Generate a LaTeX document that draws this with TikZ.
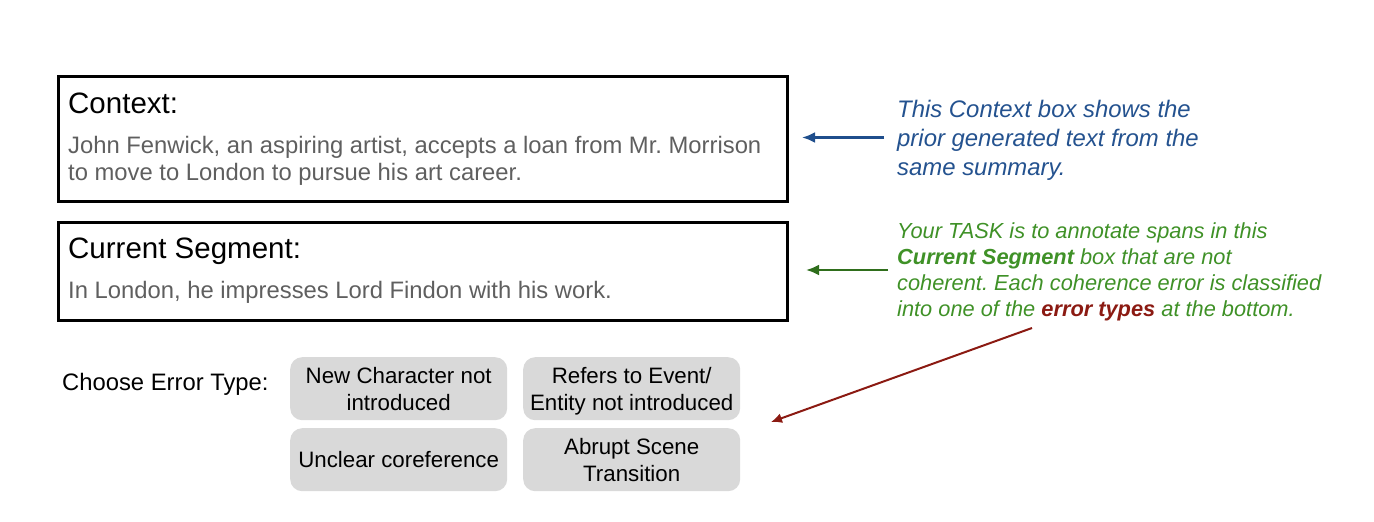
\documentclass[tikz,border=0pt]{standalone}
\usepackage{fontspec}
\setmainfont{Liberation Sans}
\usetikzlibrary{arrows.meta}
\frenchspacing
\definecolor{txtgrey}{HTML}{5F5F5F}
\definecolor{boxgrey}{HTML}{D9D9D9}
\definecolor{noteblue}{HTML}{24528F}
\definecolor{arrowblue}{HTML}{1F4E8C}
\definecolor{notegreen}{HTML}{3F9127}
\definecolor{arrowgreen}{HTML}{2F6E1C}
\definecolor{notered}{HTML}{8B1A12}
\tikzset{
  framebox/.style={draw=black, line width=2.6pt, anchor=north west, inner sep=0pt},
  titletext/.style={anchor=base west, inner sep=0pt, font=\fontsize{29.5}{34}\selectfont},
  bodytext/.style={anchor=base west, inner sep=0pt, text=txtgrey, align=left, font=\fontsize{23.8}{27}\selectfont},
  choice/.style={fill=boxgrey, rounded corners=12pt, minimum width=217pt, minimum height=63pt, anchor=north west, inner sep=0pt, align=center, font=\fontsize{22.3}{27}\selectfont},
  note/.style={anchor=base west, inner sep=0pt, align=left},
  pointer/.style={line width=2.6pt, -{Latex[length=13pt,width=11pt]}}
}
\begin{document}
\begin{tikzpicture}[x=1pt,y=-1pt]
\useasboundingbox (0,0) rectangle (1374,522);
% context box
\node[framebox, minimum width=729pt, minimum height=125pt] (ctx) at (57,75) {};
\node[titletext] (ctxtitle) at (68,113) {Context:};
\node[bodytext] (ctxbody) at (68,180) {John Fenwick, an aspiring artist, accepts a loan from Mr. Morrison\\to move to London to pursue his art career.};
% current segment box
\node[framebox, minimum width=729pt, minimum height=98pt] (seg) at (57,221) {};
\node[titletext] (segtitle) at (68,258) {Current Segment:};
\node[bodytext] (segbody) at (68,298) {In London, he impresses Lord Findon with his work.};
% choices
\node[anchor=base west, inner sep=0pt, font=\fontsize{23.8}{27}\selectfont] (choose) at (62,390) {Choose Error Type:};
\node[choice] (c1) at (290,357) {New Character not\\introduced};
\node[choice] (c2) at (523,357) {Refers to Event/\\Entit\smash{y} not introduced};
\node[choice] (c3) at (290,428) {Unclear coreference};
\node[choice] (c4) at (523,428) {Abrupt Scene\\Transition};
% notes
\node[note, text=noteblue, font=\itshape\fontsize{23.9}{29}\selectfont] (bluenote) at (897,175) {This Context box shows the\\prior generated text from the\\same summary.};
\node[note, text=notegreen, font=\itshape\fontsize{21.8}{25.7}\selectfont] (greennote) at (897,316) {Your TASK is to annotate spans in this\\\textbf{Current Segment} box that are not\\coherent. Each coherence error is classified\\into one of the \textbf{\textcolor{notered}{error types}} at the bottom.};
% arrows
\coordinate (bstart) at (884,137.5);
\coordinate (bend) at (802,137.5);
\coordinate (gstart) at (888,270);
\coordinate (gend) at (806,270);
\coordinate (rstart) at (1032,328);
\coordinate (rend) at (771,422);
\draw[pointer, arrowblue] (bstart) -- (bend);
\draw[pointer, arrowgreen] (gstart) -- (gend);
\draw[pointer, notered, line width=2pt, -{Latex[length=11pt,width=10pt]}] (rstart) -- (rend);
\end{tikzpicture}
\end{document}
